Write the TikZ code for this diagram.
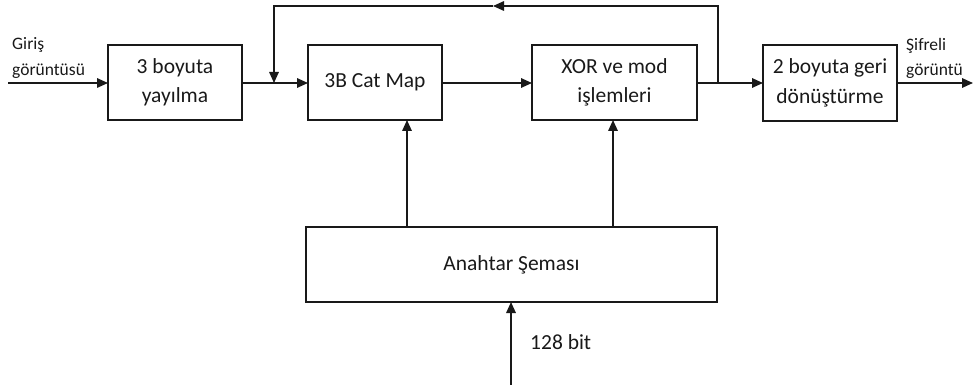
\documentclass[tikz,border=0pt]{standalone}
\usepackage{fontspec}
\setmainfont{Carlito}
\usetikzlibrary{arrows.meta}
\begin{document}
\begin{tikzpicture}[x=1pt,y=-1pt,
  blk/.style={draw=black!90, line width=2pt, inner sep=0pt, outer sep=0pt, align=center,
    font=\fontsize{21.5}{29.5}\selectfont, text=black!90},
  conn/.style={draw=black!90, line width=1.6pt},
  arr/.style={conn, -{Triangle[length=11pt,width=9.5pt]}},
  lbl/.style={font=\fontsize{17.5}{22}\selectfont, text=black!90, inner sep=0pt},
  lblbig/.style={font=\fontsize{21.5}{26}\selectfont, text=black!90, inner sep=0pt}]
\useasboundingbox (0,0) rectangle (974,385);

\node[blk, minimum width=134pt, minimum height=75pt] (b1) at (175,82.5) {3 boyuta\\yayılma};
\node[blk, minimum width=134pt, minimum height=75pt] (b2) at (375,82.5) {3B Cat Map};
\node[blk, minimum width=165pt, minimum height=75pt] (b3) at (614.5,82.5) {XOR ve mod\\işlemleri};
\node[blk, minimum width=134pt, minimum height=76pt] (b4) at (830,83) {2 boyuta geri\\dönüştürme};
\node[blk, minimum width=411pt, minimum height=75pt] (b5) at (511.5,264.5) {Anahtar Şeması};

\node[lbl, anchor=base west] (l1) at (12,50) {Giriş};
\node[lbl, anchor=base west] (l2) at (12,76) {görüntüsü};
\node[lbl, anchor=base west] (l3) at (906,51) {Şifreli};
\node[lbl, anchor=base west] (l4) at (906,76) {görüntü};
\node[lblbig, anchor=base west] (l5) at (530,349) {128 bit};

\coordinate (in) at (8,83);
\coordinate (out) at (973,83);
\coordinate (j) at (718,83);
\coordinate (k) at (274,83);
\coordinate (tr) at (718,6);
\coordinate (tl) at (274,6);
\coordinate (mid) at (493,6);
\coordinate (v1) at (407,0);
\coordinate (v2) at (613,0);
\coordinate (kin) at (511,385);
\coordinate (h) at (0,83);

\draw[arr] (in) -- (in -| b1.west);
\draw[arr] (h -| b1.east) -- (h -| b2.west);
\draw[arr] (h -| b2.east) -- (h -| b3.west);
\draw[arr] (h -| b3.east) -- (h -| b4.west);
\draw[arr] (h -| b4.east) -- (out);
\draw[arr] (j) -- (tr) -- (mid);
\draw[arr] (mid) -- (tl) -- (k);
\draw[arr] (b5.north -| v1) -- (b2.south -| v1);
\draw[arr] (b5.north -| v2) -- (b3.south -| v2);
\draw[arr] (kin) -- (kin |- b5.south);
\end{tikzpicture}
\end{document}
